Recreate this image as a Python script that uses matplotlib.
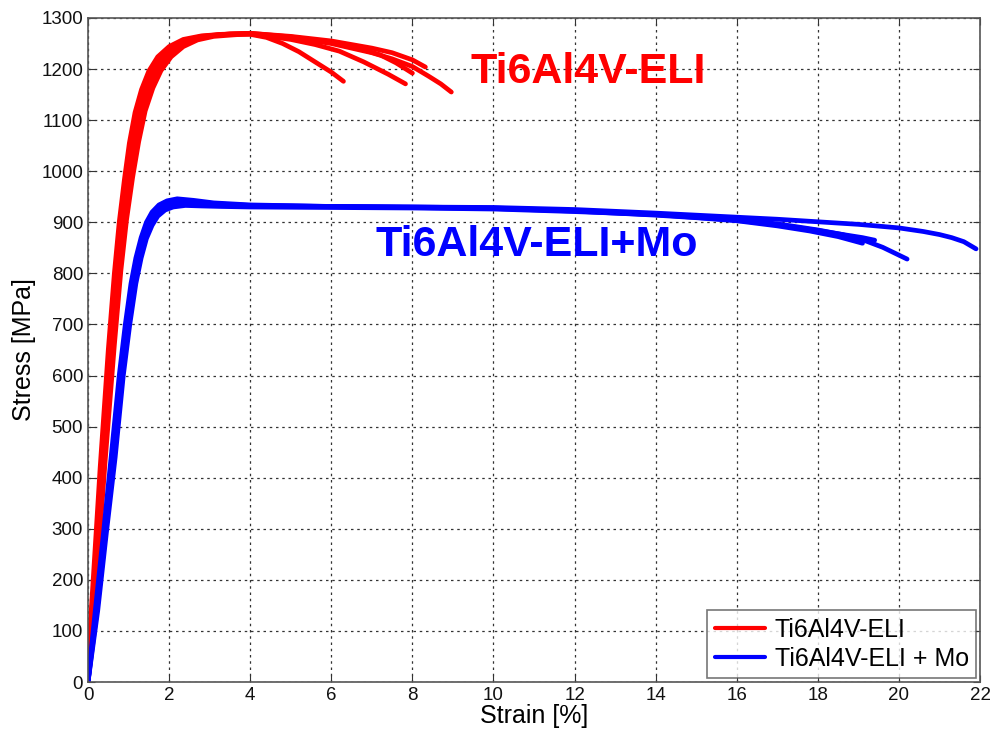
"""Tensile curves: Ti6Al4V-ELI vs Ti6Al4V-ELI + Mo."""

import matplotlib
matplotlib.use("Agg")
import matplotlib.pyplot as plt

plt.rcParams["font.family"] = ["Liberation Sans", "DejaVu Sans"]

# Ti6Al4V-ELI specimens (strain %, stress MPa)
red_1_strain = [0, 0.15, 0.35, 0.55, 0.7, 0.82, 0.95, 1.08, 1.22, 1.38, 1.56, 1.78, 2.05, 2.4, 2.8, 3.3, 4.0, 4.4, 4.8, 5.2, 5.6, 6.0, 6.3]
red_1_stress = [0, 180, 420, 650, 800, 900, 985, 1055, 1115, 1160, 1195, 1222, 1242, 1256, 1264, 1268, 1268, 1262, 1250, 1234, 1214, 1194, 1176]
red_2_strain = [0, 0.12, 0.3, 0.5, 0.65, 0.77, 0.9, 1.02, 1.16, 1.32, 1.5, 1.72, 2.0, 2.35, 2.8, 3.3, 4.0, 5.0, 5.6, 6.2, 6.8, 7.4, 7.83]
red_2_stress = [40, 190, 420, 650, 800, 900, 985, 1055, 1115, 1160, 1196, 1224, 1244, 1258, 1265, 1268, 1269, 1258, 1248, 1235, 1214, 1190, 1171]
red_3_strain = [0, 0.18, 0.4, 0.62, 0.78, 0.91, 1.05, 1.19, 1.34, 1.52, 1.72, 1.96, 2.25, 2.6, 3.0, 3.5, 4.0, 5.0, 6.0, 7.0, 7.5, 8.0, 8.32]
red_3_stress = [0, 190, 430, 660, 805, 905, 988, 1058, 1118, 1163, 1198, 1225, 1245, 1258, 1265, 1269, 1270, 1264, 1255, 1241, 1232, 1218, 1204]
red_4_strain = [0, 0.16, 0.37, 0.58, 0.74, 0.86, 1.0, 1.13, 1.28, 1.45, 1.64, 1.88, 2.15, 2.5, 2.9, 3.4, 4.0, 5.0, 6.0, 6.6, 7.2, 7.6, 8.0]
red_4_stress = [0, 185, 425, 655, 802, 902, 986, 1056, 1116, 1161, 1196, 1223, 1243, 1257, 1264, 1268, 1270, 1263, 1252, 1242, 1228, 1212, 1192]
red_5_strain = [0, 0.2, 0.42, 0.65, 0.81, 0.95, 1.1, 1.25, 1.41, 1.6, 1.8, 2.05, 2.35, 2.7, 3.1, 3.6, 4.0, 5.0, 6.0, 7.0, 7.5, 8.0, 8.4, 8.7, 8.96]
red_5_stress = [0, 190, 430, 660, 805, 905, 988, 1058, 1118, 1163, 1197, 1224, 1244, 1257, 1264, 1267, 1269, 1262, 1250, 1232, 1220, 1205, 1186, 1171, 1155]

# Ti6Al4V-ELI + Mo specimens
blue_1_strain = [0, 0.2, 0.4, 0.6, 0.8, 0.95, 1.1, 1.22, 1.35, 1.48, 1.62, 1.8, 2.0, 2.3, 2.7, 3.2, 4.0, 6.0, 8.0, 10.0, 12.0, 14.0, 16.0, 17.0, 18.0, 19.0, 20.0, 20.6, 21.0, 21.3, 21.6, 21.9]
blue_1_stress = [0, 140, 290, 440, 600, 700, 780, 830, 870, 897, 915, 928, 935, 938, 937, 935, 932, 931, 930, 929, 925, 918, 910, 906, 901, 896, 889, 882, 876, 870, 862, 848]
blue_2_strain = [0, 0.22, 0.43, 0.64, 0.84, 1.0, 1.15, 1.27, 1.4, 1.53, 1.67, 1.85, 2.05, 2.35, 2.75, 3.2, 4.0, 6.0, 8.0, 10.0, 12.0, 14.0, 15.0, 16.0, 17.0, 18.0, 18.6, 19.1, 19.6, 20.2]
blue_2_stress = [0, 140, 290, 440, 600, 700, 780, 830, 870, 898, 917, 930, 937, 940, 939, 936, 933, 931, 930, 928, 923, 915, 911, 905, 897, 885, 876, 866, 851, 828]
blue_3_strain = [0, 0.18, 0.38, 0.57, 0.77, 0.92, 1.06, 1.18, 1.31, 1.44, 1.58, 1.75, 1.95, 2.2, 2.6, 3.1, 4.0, 6.0, 8.0, 10.0, 12.0, 14.0, 15.0, 16.0, 17.0, 17.8, 18.5, 19.1]
blue_3_stress = [0, 140, 290, 440, 600, 700, 780, 830, 870, 900, 920, 934, 942, 946, 943, 938, 934, 931, 929, 927, 922, 914, 909, 903, 893, 883, 872, 859]
blue_4_strain = [0, 0.24, 0.45, 0.67, 0.87, 1.03, 1.18, 1.31, 1.44, 1.58, 1.72, 1.9, 2.1, 2.4, 2.8, 3.3, 4.0, 6.0, 8.0, 10.0, 12.0, 14.0, 16.0, 17.0, 18.0, 18.7, 19.1, 19.4]
blue_4_stress = [0, 140, 290, 440, 600, 700, 780, 830, 868, 894, 912, 924, 930, 933, 932, 931, 930, 929, 928, 926, 921, 915, 904, 895, 884, 875, 870, 865]

red_curves = [(red_1_strain, red_1_stress), (red_2_strain, red_2_stress), (red_3_strain, red_3_stress),
              (red_4_strain, red_4_stress), (red_5_strain, red_5_stress)]
blue_curves = [(blue_1_strain, blue_1_stress), (blue_2_strain, blue_2_stress),
               (blue_3_strain, blue_3_stress), (blue_4_strain, blue_4_stress)]

x_ticks = list(range(0, 23, 2))
y_ticks = list(range(0, 1301, 100))

fig = plt.figure(figsize=(9.91, 7.34), dpi=100)
ax = fig.add_axes([0.0888, 0.0708, 0.9002, 0.9047])

for i, (s, sig) in enumerate(red_curves):
    ax.plot(s, sig, color="#ff0000", linewidth=3.4, solid_capstyle="round", solid_joinstyle="round",
            label="Ti6Al4V-ELI" if i == 0 else None)
for i, (s, sig) in enumerate(blue_curves):
    ax.plot(s, sig, color="#0000ff", linewidth=3.4, solid_capstyle="round", solid_joinstyle="round",
            label="Ti6Al4V-ELI + Mo" if i == 0 else None)

ax.text(9.43, 1194, "Ti6Al4V-ELI", color="#ff0000", fontsize=31, fontweight="bold", va="center")
ax.text(7.09, 855, "Ti6Al4V-ELI+Mo", color="#0000ff", fontsize=31, fontweight="bold", va="center")

ax.set_xlim(0, 22)
ax.set_ylim(0, 1300)
ax.set_xticks(x_ticks)
ax.set_yticks(y_ticks)
ax.tick_params(direction="in", top=True, right=True, labelsize=13.5, length=5, colors="#333333",
               labelcolor="#111111")
ax.grid(True, color="#333333", linestyle=(0, (2, 3)), linewidth=0.9)
for sp in ax.spines.values():
    sp.set_color("#555555")
    sp.set_linewidth(1.2)

ax.set_xlabel("Strain [%]", fontsize=18, labelpad=0)
ax.set_ylabel("Stress [MPa]", fontsize=18, labelpad=4)

leg = ax.legend(loc="lower right", fontsize=18, frameon=True, fancybox=False, handlelength=2.0,
                borderaxespad=0.15, handletextpad=0.4, borderpad=0.3, labelspacing=0.2)
leg.get_frame().set_edgecolor("#555555")
leg.get_frame().set_linewidth(1.2)
for line in leg.get_lines():
    line.set_linewidth(3)

fig.savefig("out.png", dpi=100)
